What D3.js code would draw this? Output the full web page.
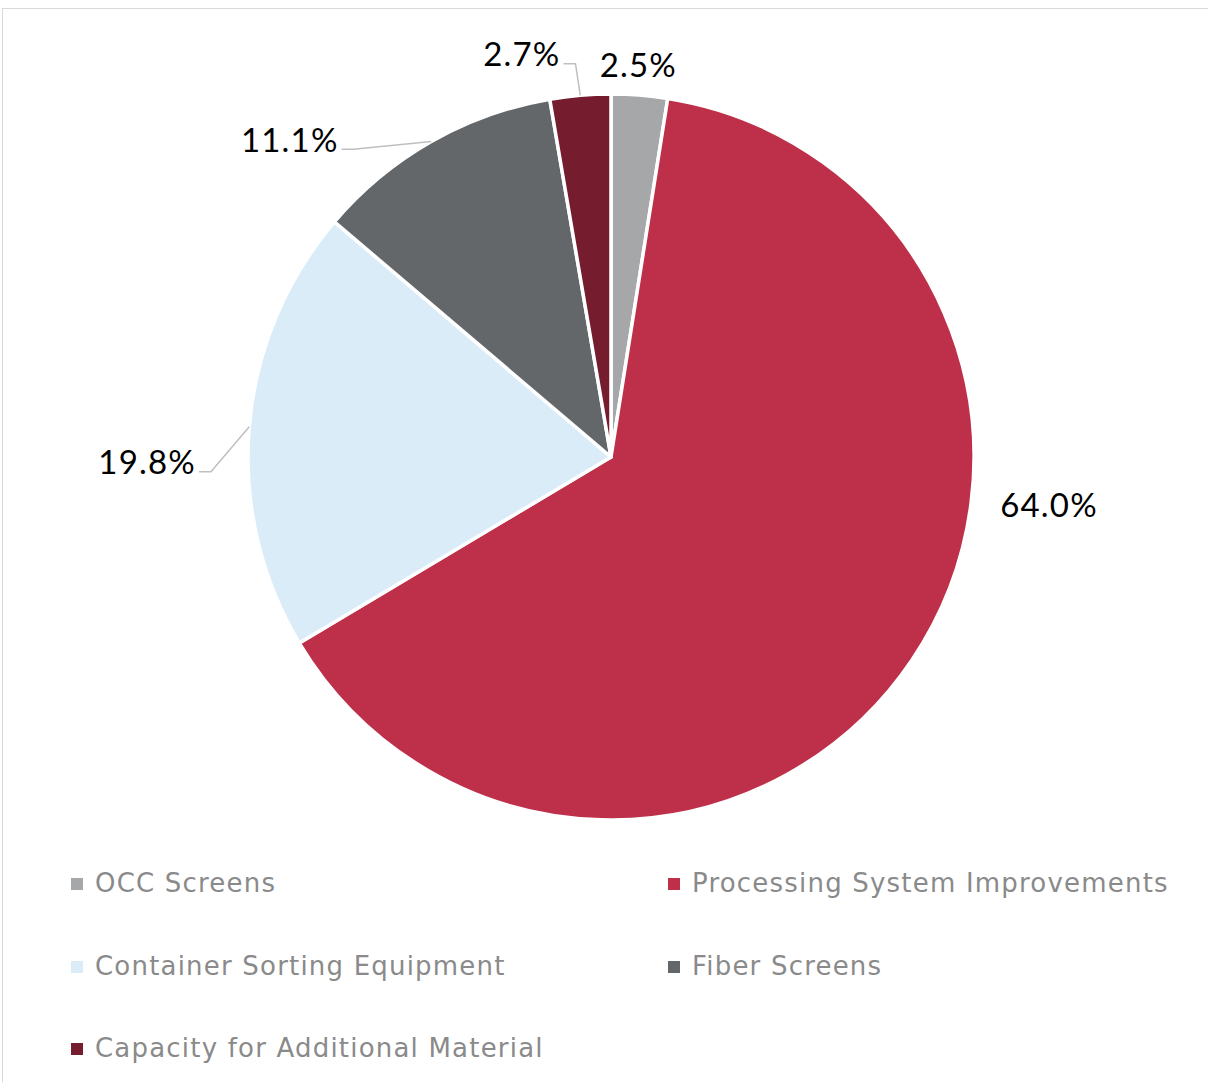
<!DOCTYPE html>
<html>
<head>
<meta charset="utf-8">
<script src="https://cdn.jsdelivr.net/npm/d3@7"></script>
<style>
  body { margin: 0; background: #fff; }
  svg { display: block; }
</style>
</head>
<body>
<svg width="1208" height="1082"></svg>
<script>
// Data
const categories = ["OCC Screens", "Processing System Improvements", "Container Sorting Equipment", "Fiber Screens", "Capacity for Additional Material"];
const shares = [2.5, 64.0, 19.8, 11.1, 2.7];
const colors = ["#A5A7A9", "#BE304A", "#DAECF8", "#646769", "#751C2E"];

// where each label sits: angle (deg, clockwise from top) and distance as a fraction of radius
const labelAngle = [4, 96.3, -90.7, -45.4, -12.5];
const labelDist = [1.08, 1.214, 1.278, 1.243, 1.135];
const hasLeader = [false, false, true, true, true];

const svg = d3.select("svg"),
    width = +svg.attr("width"),
    height = +svg.attr("height");

// chart area border
svg.append("rect")
    .attr("x", 2.5).attr("y", 8.5)
    .attr("width", width + 50).attr("height", height + 50)
    .attr("fill", "none")
    .attr("stroke", "#D9D9D9")
    .attr("stroke-width", 1);

const cx = 611, cy = 457, radius = 363;

const pie = d3.pie().sort(null).value(d => d);
const arcs = pie(shares);
const arc = d3.arc().innerRadius(0).outerRadius(radius);

const g = svg.append("g").attr("transform", `translate(${cx},${cy})`);

g.selectAll("path.slice")
    .data(arcs)
    .join("path")
      .attr("class", "slice")
      .attr("d", arc)
      .attr("fill", (d, i) => colors[i])
      .attr("stroke", "#fff")
      .attr("stroke-width", 3.5)
      .attr("stroke-linejoin", "round");

// data labels
const labelFont = "Lato, 'Open Sans', sans-serif";
const labels = g.selectAll("text.lbl")
    .data(arcs)
    .join("text")
      .attr("class", "lbl")
      .attr("x", (d, i) => Math.sin(labelAngle[i] * Math.PI / 180) * radius * labelDist[i])
      .attr("y", (d, i) => -Math.cos(labelAngle[i] * Math.PI / 180) * radius * labelDist[i])
      .attr("dy", "0.35em")
      .attr("text-anchor", "middle")
      .style("font-family", labelFont)
      .style("font-size", "33px")
      .style("letter-spacing", "1.2px")
      .attr("fill", "#000")
      .text(d => d.data.toFixed(1) + "%");

// leader lines
labels.each(function(d, i) {
    if (!hasLeader[i]) return;
    const t = d3.select(this);
    const w = this.getComputedTextLength();
    const lx = +t.attr("x"), ly = +t.attr("y");
    const mid = (d.startAngle + d.endAngle) / 2;
    const edge = [Math.sin(mid) * radius, -Math.cos(mid) * radius];
    const endX = lx + w / 2 + 3;
    const endY = ly + 9;
    const pts = [edge, [endX + 12, endY], [endX, endY]];
    g.append("path")
        .attr("d", d3.line()(pts))
        .attr("fill", "none")
        .attr("stroke", "#BFBFBF")
        .attr("stroke-width", 1.5);
});

// legend
const legendX = [71, 668];
const legendY = [892, 975, 1057];
const legend = svg.append("g")
    .selectAll("g")
    .data(categories)
    .join("g")
      .attr("transform", (d, i) => `translate(${legendX[i % 2]},${legendY[Math.floor(i / 2)]})`);

legend.append("rect")
    .attr("x", 0).attr("y", -14)
    .attr("width", 12).attr("height", 12)
    .attr("fill", (d, i) => colors[i]);

legend.append("text")
    .attr("x", 24).attr("y", 0)
    .style("font-family", "'DejaVu Sans', sans-serif")
    .style("font-size", "26px")
    .style("letter-spacing", "1.2px")
    .attr("fill", "#8A8A8A")
    .text(d => d);
</script>
</body>
</html>
